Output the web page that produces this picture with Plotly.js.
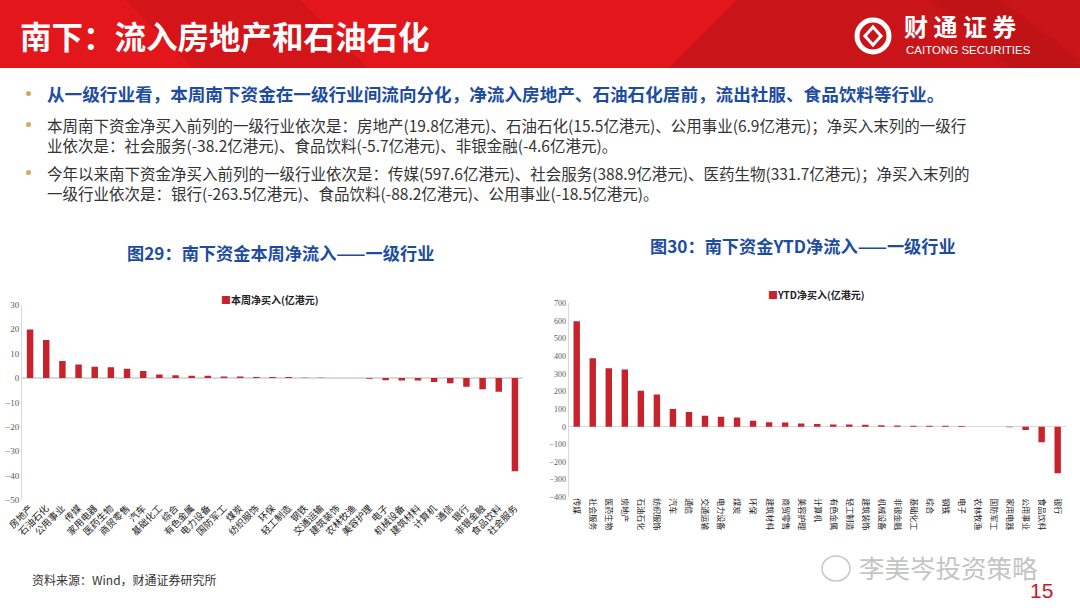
<!DOCTYPE html>
<html>
<head>
<meta charset="utf-8">
<script src="https://cdn.plot.ly/plotly-3.0.1.min.js"></script>
<style>
html,body{margin:0;padding:0;background:#fff;}
#chart{width:1080px;height:608px;}
</style>
</head>
<body>
<div id="chart"></div>
<script>
// ---------- data ----------
const weekCategories = ["房地产","石油石化","公用事业","传媒","家用电器","医药生物","商贸零售","汽车","基础化工","综合","有色金属","电力设备","国防军工","煤炭","纺织服饰","环保","轻工制造","钢铁","交通运输","建筑装饰","农林牧渔","美容护理","电子","机械设备","建筑材料","计算机","通信","银行","非银金融","食品饮料","社会服务"];
const weekValues = [19.8,15.5,6.9,5.5,4.6,4.4,3.8,2.8,1.4,1.1,0.9,0.9,0.6,0.6,0.4,0.35,0.35,0.05,0.03,0.02,-0.05,-0.3,-0.9,-1.1,-1.1,-1.7,-2.2,-3.6,-4.6,-5.7,-38.2];
const weekTicks = [-50,-40,-30,-20,-10,0,10,20,30];

const ytdCategories = ["传媒","社会服务","医药生物","房地产","石油石化","纺织服饰","汽车","通信","交通运输","电力设备","煤炭","环保","建筑材料","商贸零售","美容护理","计算机","有色金属","轻工制造","建筑装饰","机械设备","非银金融","基础化工","综合","钢铁","电子","农林牧渔","国防军工","家用电器","公用事业","食品饮料","银行"];
const ytdValues = [597.6,388.9,331.7,325,204,183,100,83,62,57,53,34,26,24,19,15,13,13,11,8,7,6,5,5,4,0.5,-0.5,-3,-18.5,-88.2,-263.5];
const ytdTicks = [-400,-300,-200,-100,0,100,200,300,400,500,600,700];

const weekName = "本周净买入(亿港元)";
const ytdName = "YTD净买入(亿港元)";

// ---------- helpers ----------
const W = 1080, H = 608;
const px = x => x / W;
const py = y => 1 - y / H;
const BAR = "#C8232C";
const FONT = "Noto Sans CJK SC";

const traces = [
  {type:"bar", x:weekCategories, y:weekValues, name:weekName, xaxis:"x", yaxis:"y",
   marker:{color:BAR}, showlegend:false, hoverinfo:"x+y"},
  {type:"bar", x:ytdCategories, y:ytdValues, name:ytdName, xaxis:"x2", yaxis:"y2",
   marker:{color:BAR}, showlegend:false, hoverinfo:"x+y"}
];

function pathPoly(pts){
  return "M" + pts.map(p => px(p[0]) + "," + py(p[1])).join(" L") + " Z";
}

const shapes = [
  // header band
  {type:"rect", xref:"paper", yref:"paper", x0:0, x1:1, y0:py(68), y1:1, fillcolor:"#E3161C", line:{width:0}, layer:"below"},
  {type:"path", xref:"paper", yref:"paper", path:pathPoly([[125,0],[300,0],[368,68],[193,68]]), fillcolor:"#D31419", line:{width:0}, layer:"below"},
  {type:"path", xref:"paper", yref:"paper", path:pathPoly([[737,0],[1080,0],[1080,68],[669,68]]), fillcolor:"#C9151A", line:{width:0}, layer:"below"},
  {type:"path", xref:"paper", yref:"paper", path:pathPoly([[930,0],[1000,0],[1080,60],[1080,68],[1010,68]]), fillcolor:"#C01318", line:{width:0}, layer:"below"},
  // logo emblem
  {type:"circle", xref:"paper", yref:"paper", x0:px(857), x1:px(889), y0:py(52), y1:py(20), line:{color:"#ffffff", width:5}, fillcolor:"rgba(0,0,0,0)"},
  {type:"path", xref:"paper", yref:"paper", path:pathPoly([[873,27],[881,36],[873,45],[865,36]]), fillcolor:"#C9151A", line:{color:"#ffffff", width:3}},
  // bullets
  {type:"circle", xref:"paper", yref:"paper", x0:px(26), x1:px(31), y0:py(96), y1:py(91), fillcolor:"#D6A56B", line:{width:0}},
  {type:"circle", xref:"paper", yref:"paper", x0:px(26), x1:px(31), y0:py(127), y1:py(122), fillcolor:"#D6A56B", line:{width:0}},
  {type:"circle", xref:"paper", yref:"paper", x0:px(26), x1:px(31), y0:py(175), y1:py(170), fillcolor:"#D6A56B", line:{width:0}},
  // watermark bubble
  {type:"circle", xref:"paper", yref:"paper", x0:px(822), x1:px(850), y0:py(581), y1:py(556), line:{color:"#c8c8c8", width:1.5}, fillcolor:"rgba(0,0,0,0)"}
];

function ann(x, y, text, size, color, opts){
  return Object.assign({xref:"paper", yref:"paper", x:px(x), y:py(y), text:text, showarrow:false,
    xanchor:"left", yanchor:"middle", font:{family:FONT, size:size, color:color}}, opts || {});
}

const annotations = [
  ann(18, 35, "<b>南下：流入房地产和石油石化</b>", 31.5, "#ffffff"),
  ann(902, 26, "<b>财 通 证 券</b>", 24, "#ffffff"),
  ann(904, 50, "CAITONG SECURITIES", 11.5, "#ffffff", {font:{family:"Liberation Sans", size:11.5, color:"#ffffff"}}),
  ann(45, 93, "<b>从一级行业看，本周南下资金在一级行业间流向分化，净流入房地产、石油石化居前，流出社服、食品饮料等行业。</b>", 17.6, "#1D4CA0"),
  ann(45, 125, "本周南下资金净买入前列的一级行业依次是：房地产(19.8亿港元)、石油石化(15.5亿港元)、公用事业(6.9亿港元)；净买入末列的一级行", 15.5, "#333333"),
  ann(45, 145, "业依次是：社会服务(-38.2亿港元)、食品饮料(-5.7亿港元)、非银金融(-4.6亿港元)。", 15.5, "#333333"),
  ann(45, 173, "今年以来南下资金净买入前列的一级行业依次是：传媒(597.6亿港元)、社会服务(388.9亿港元)、医药生物(331.7亿港元)；净买入末列的", 15.5, "#333333"),
  ann(45, 193, "一级行业依次是：银行(-263.5亿港元)、食品饮料(-88.2亿港元)、公用事业(-18.5亿港元)。", 15.5, "#333333"),
  ann(280, 252, "<b>图29：南下资金本周净流入——一级行业</b>", 17.2, "#1D4CA0", {xanchor:"center"}),
  ann(803, 246, "<b>图30：南下资金YTD净流入——一级行业</b>", 17.2, "#1D4CA0", {xanchor:"center"}),
  ann(219, 299, "<span style='color:" + BAR + "'>■</span><b>" + weekName + "</b>", 10, "#222222"),
  ann(766, 294, "<span style='color:" + BAR + "'>■</span><b>" + ytdName + "</b>", 10, "#222222"),
  ann(30, 579, "资料来源：Wind，财通证券研究所", 12, "#333333"),
  ann(857, 566, "李美岑投资策略", 25.5, "#c4c4c4"),
  ann(1055, 590, "15", 21, "#D0161C", {xanchor:"right", font:{family:"Liberation Sans", size:21, color:"#D0161C"}})
];

const layout = {
  width:W, height:H,
  margin:{l:0, r:0, t:0, b:0},
  paper_bgcolor:"#ffffff", plot_bgcolor:"rgba(0,0,0,0)",
  bargap:0.6,
  font:{family:FONT, color:"#333333"},
  xaxis:{domain:[px(22), px(523)], anchor:"y", type:"category", tickangle:-45,
    tickfont:{family:FONT, size:9.5, color:"#222222"}, showline:false, ticks:"", showgrid:false, automargin:false, fixedrange:true},
  yaxis:{domain:[py(500), py(304.7)], anchor:"x", range:[-50,30], tickvals:weekTicks, showgrid:false,
    showline:true, linecolor:"#d9d9d9", linewidth:1, zeroline:true, zerolinecolor:"#d9d9d9", zerolinewidth:1.2,
    ticks:"", tickfont:{family:"Liberation Serif", size:9, color:"#595959"}, automargin:false, fixedrange:true},
  xaxis2:{domain:[px(568.7), px(1065.7)], anchor:"y2", type:"category", tickangle:90,
    tickfont:{family:FONT, size:8, color:"#222222"}, showline:false, ticks:"", showgrid:false, automargin:false, fixedrange:true},
  yaxis2:{domain:[py(497.3), py(303.3)], anchor:"x2", range:[-400,700], tickvals:ytdTicks, showgrid:false,
    showline:true, linecolor:"#d9d9d9", linewidth:1, zeroline:true, zerolinecolor:"#d9d9d9", zerolinewidth:1.2,
    ticks:"", tickfont:{family:"Liberation Serif", size:8, color:"#595959"}, automargin:false, fixedrange:true},
  shapes:shapes,
  annotations:annotations
};

Plotly.newPlot("chart", traces, layout, {displayModeBar:false, staticPlot:true});
</script>
</body>
</html>
